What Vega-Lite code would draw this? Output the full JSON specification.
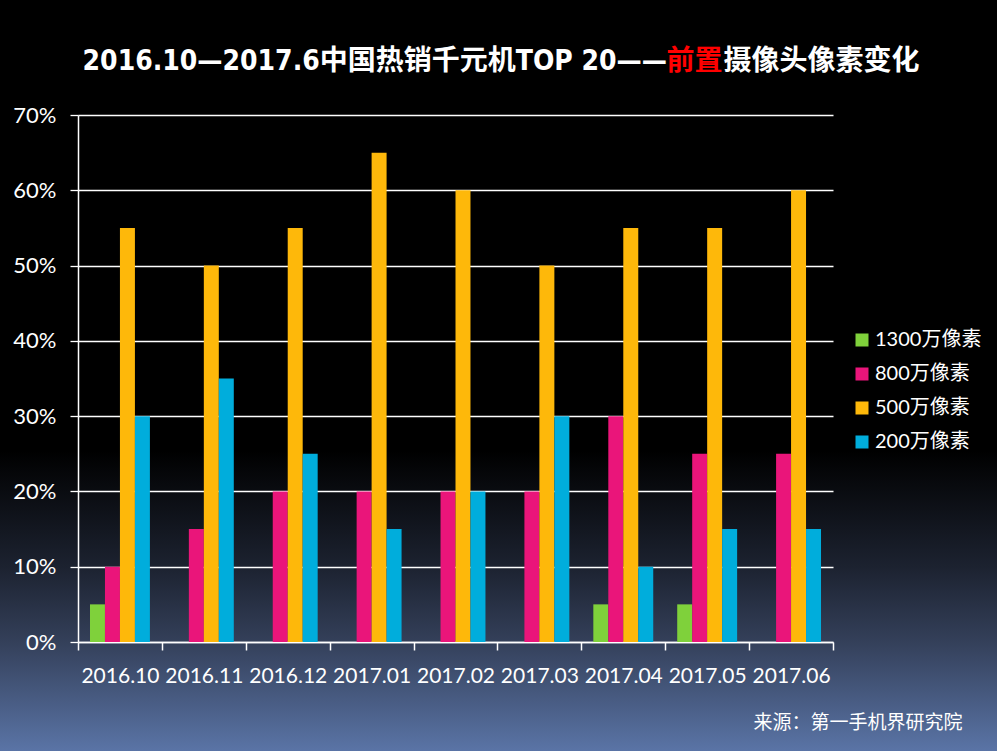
{
  "$schema": "https://vega.github.io/schema/vega-lite/v6.json",
  "description": "2016.10-2017.6 front camera resolution of top 20 budget phones in China",
  "width": 997,
  "height": 751,
  "autosize": {"type": "none"},
  "padding": 0,
  "background": "#000000",
  "view": {
    "stroke": null,
    "fill": {
      "gradient": "linear",
      "x1": 0, "y1": 0, "x2": 0, "y2": 1,
      "stops": [
        {"offset": 0, "color": "#000000"},
        {"offset": 0.6, "color": "#000000"},
        {"offset": 0.755, "color": "#1c2230"},
        {"offset": 0.855, "color": "#34405a"},
        {"offset": 1, "color": "#5a74a6"}
      ]
    }
  },
  "title": {
    "text": "2016.10—2017.6中国热销千元机TOP 20——",
    "frame": "group",
    "anchor": "end",
    "dx": -330,
    "dy": 76,
    "offset": 0,
    "color": "#ffffff",
    "font": "DejaVu Sans Condensed, Noto Sans CJK SC",
    "fontSize": 28,
    "fontWeight": "bold"
  },
  "data": {
    "values": [
      {"month": "2016.10", "series": "1300万像素", "share": 0.05},
      {"month": "2016.10", "series": "800万像素", "share": 0.10},
      {"month": "2016.10", "series": "500万像素", "share": 0.55},
      {"month": "2016.10", "series": "200万像素", "share": 0.30},
      {"month": "2016.11", "series": "1300万像素", "share": 0},
      {"month": "2016.11", "series": "800万像素", "share": 0.15},
      {"month": "2016.11", "series": "500万像素", "share": 0.50},
      {"month": "2016.11", "series": "200万像素", "share": 0.35},
      {"month": "2016.12", "series": "1300万像素", "share": 0},
      {"month": "2016.12", "series": "800万像素", "share": 0.20},
      {"month": "2016.12", "series": "500万像素", "share": 0.55},
      {"month": "2016.12", "series": "200万像素", "share": 0.25},
      {"month": "2017.01", "series": "1300万像素", "share": 0},
      {"month": "2017.01", "series": "800万像素", "share": 0.20},
      {"month": "2017.01", "series": "500万像素", "share": 0.65},
      {"month": "2017.01", "series": "200万像素", "share": 0.15},
      {"month": "2017.02", "series": "1300万像素", "share": 0},
      {"month": "2017.02", "series": "800万像素", "share": 0.20},
      {"month": "2017.02", "series": "500万像素", "share": 0.60},
      {"month": "2017.02", "series": "200万像素", "share": 0.20},
      {"month": "2017.03", "series": "1300万像素", "share": 0},
      {"month": "2017.03", "series": "800万像素", "share": 0.20},
      {"month": "2017.03", "series": "500万像素", "share": 0.50},
      {"month": "2017.03", "series": "200万像素", "share": 0.30},
      {"month": "2017.04", "series": "1300万像素", "share": 0.05},
      {"month": "2017.04", "series": "800万像素", "share": 0.30},
      {"month": "2017.04", "series": "500万像素", "share": 0.55},
      {"month": "2017.04", "series": "200万像素", "share": 0.10},
      {"month": "2017.05", "series": "1300万像素", "share": 0.05},
      {"month": "2017.05", "series": "800万像素", "share": 0.25},
      {"month": "2017.05", "series": "500万像素", "share": 0.55},
      {"month": "2017.05", "series": "200万像素", "share": 0.15},
      {"month": "2017.06", "series": "1300万像素", "share": 0},
      {"month": "2017.06", "series": "800万像素", "share": 0.25},
      {"month": "2017.06", "series": "500万像素", "share": 0.60},
      {"month": "2017.06", "series": "200万像素", "share": 0.15}
    ]
  },
  "encoding": {
    "x": {
      "field": "month",
      "type": "nominal",
      "sort": null,
      "scale": {"range": [78, 833], "paddingInner": 0, "paddingOuter": 0}
    },
    "y": {
      "field": "share",
      "type": "quantitative",
      "scale": {"domain": [0, 0.7], "range": [642, 115], "nice": false}
    }
  },
  "layer": [
    {
      "mark": {"type": "bar"},
      "encoding": {
        "x": {
          "field": "month",
          "type": "nominal",
          "sort": null,
          "axis": {
            "orient": "bottom",
            "offset": -109,
            "tickBand": "extent",
            "labelAngle": 0,
            "labelColor": "#ffffff",
            "labelFont": "Lato",
            "labelFontSize": 21,
            "labelPadding": 15,
            "tickColor": "#ffffff",
            "tickSize": 8,
            "tickWidth": 1.5,
            "domainColor": "#ffffff",
            "domainWidth": 1.5,
            "grid": false,
            "title": "来源：第一手机界研究院",
            "titleColor": "#ffffff",
            "titleFont": "Noto Sans CJK SC",
            "titleFontSize": 19,
            "titleFontWeight": "normal",
            "titleAlign": "right",
            "titleBaseline": "middle",
            "titleX": 962,
            "titleY": 80
          }
        },
        "y": {
          "field": "share",
          "type": "quantitative",
          "axis": {
            "orient": "left",
            "offset": -78,
            "values": [0, 0.1, 0.2, 0.3, 0.4, 0.5, 0.6, 0.7],
            "format": ".0%",
            "grid": true,
            "gridColor": "#ffffff",
            "gridWidth": 1.3,
            "gridOpacity": 1,
            "labelColor": "#ffffff",
            "labelFont": "Lato",
            "labelFontSize": 22,
            "labelPadding": 14,
            "tickColor": "#ffffff",
            "tickSize": 8,
            "tickWidth": 1.3,
            "domainColor": "#ffffff",
            "domainWidth": 1.5,
            "title": null
          }
        },
        "xOffset": {
          "field": "series",
          "type": "nominal",
          "sort": ["1300万像素", "800万像素", "500万像素", "200万像素"],
          "scale": {"paddingInner": 0, "paddingOuter": 0.8}
        },
        "color": {
          "field": "series",
          "type": "nominal",
          "sort": ["1300万像素", "800万像素", "500万像素", "200万像素"],
          "scale": {
            "domain": ["1300万像素", "800万像素", "500万像素", "200万像素"],
            "range": ["#7fd13b", "#ea157a", "#feb80a", "#00addc"]
          },
          "legend": {
            "orient": "none",
            "legendX": 852,
            "legendY": 330,
            "title": null,
            "symbolType": "square",
            "symbolSize": 169,
            "symbolStrokeWidth": 0,
            "symbolOpacity": 1,
            "labelColor": "#ffffff",
            "labelFont": "Lato, Noto Sans CJK SC",
            "labelFontSize": 20,
            "labelOffset": 3,
            "rowPadding": 14
          }
        }
      }
    },
    {
      "mark": {"type": "tick", "opacity": 0},
      "encoding": {
        "x": {
          "field": "month",
          "type": "nominal",
          "sort": null,
          "axis": {
            "orient": "top",
            "labels": false,
            "ticks": false,
            "domain": false,
            "grid": false,
            "title": "前置",
            "titleColor": "#ff0000",
            "titleFont": "Noto Sans CJK SC",
            "titleFontSize": 28,
            "titleFontWeight": "bold",
            "titleAlign": "center",
            "titleBaseline": "middle",
            "titleX": 694,
            "titleY": 61
          }
        },
        "y": {
          "field": "share",
          "type": "quantitative",
          "axis": {
            "orient": "right",
            "labels": false,
            "ticks": false,
            "domain": false,
            "grid": false,
            "title": "摄像头像素变化",
            "titleAngle": 0,
            "titleColor": "#ffffff",
            "titleFont": "Noto Sans CJK SC",
            "titleFontSize": 28,
            "titleFontWeight": "bold",
            "titleAlign": "left",
            "titleBaseline": "middle",
            "titleX": -274,
            "titleY": 61
          }
        }
      }
    }
  ],
  "resolve": {"axis": {"x": "independent", "y": "independent"}}
}
